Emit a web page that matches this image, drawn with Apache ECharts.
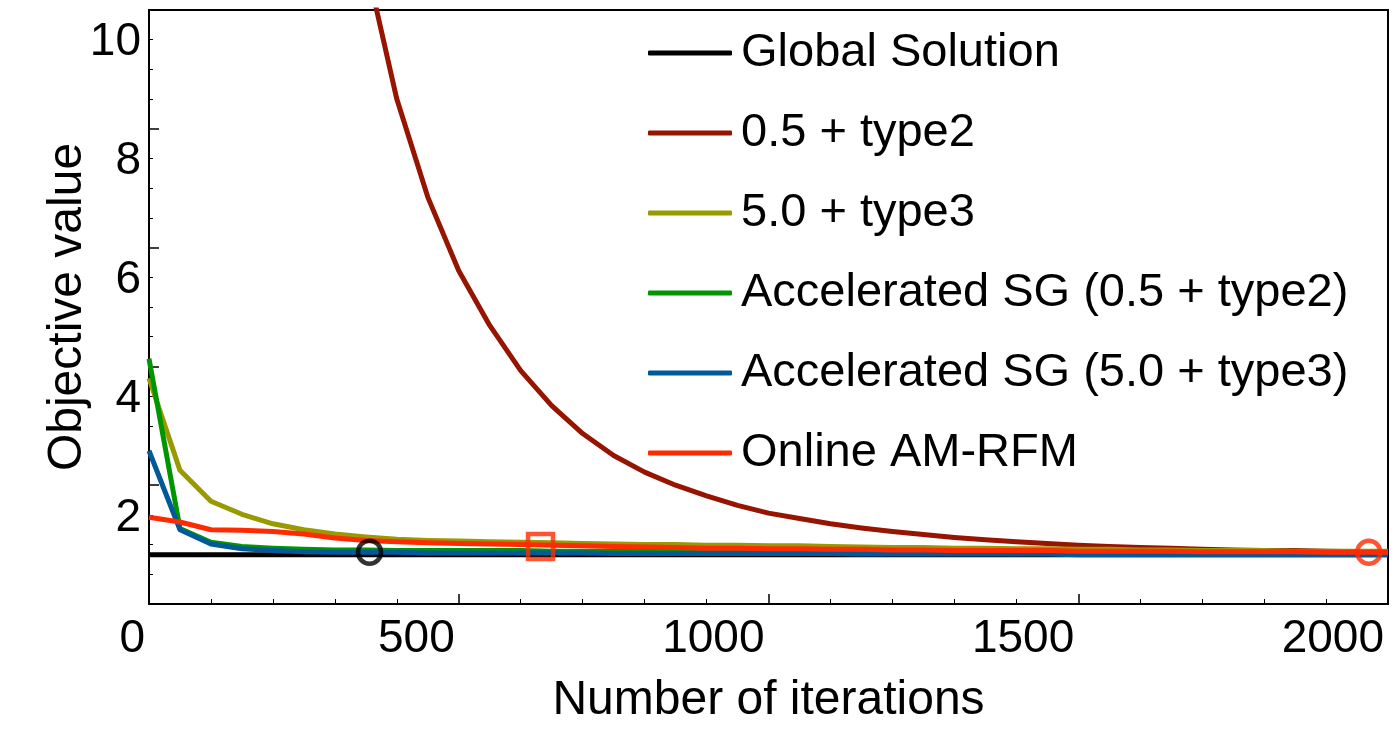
<!DOCTYPE html>
<html>
<head>
<meta charset="utf-8">
<title>Objective value vs iterations</title>
<script src="https://cdn.jsdelivr.net/npm/echarts@6/dist/echarts.min.js"></script>
<style>
  html, body { margin: 0; padding: 0; background: #fff; }
  #main { width: 1398px; height: 754px; }
</style>
</head>
<body>
<div id="main"></div>
<script>
// iterations, sampled every 50
var iterations = [0, 50, 100, 150, 200, 250, 300, 350, 400, 450, 500, 550, 600, 650, 700, 750, 800, 850, 900, 950,
  1000, 1050, 1100, 1150, 1200, 1250, 1300, 1350, 1400, 1450, 1500, 1550, 1600, 1650, 1700, 1750, 1800, 1850, 1900, 1950, 2000];

var globalSolution = [0.83, 0.83, 0.83, 0.83, 0.83, 0.83, 0.83, 0.83, 0.83, 0.83, 0.83, 0.83, 0.83, 0.83, 0.83, 0.83, 0.83, 0.83, 0.83, 0.83,
  0.83, 0.83, 0.83, 0.83, 0.83, 0.83, 0.83, 0.83, 0.83, 0.83, 0.83, 0.83, 0.83, 0.83, 0.83, 0.83, 0.83, 0.83, 0.83, 0.83, 0.83];

// 0.5 + type2 only enters the frame after ~350 iterations
var type2Half = [null, null, null, null, null, null, null, 10.8, 8.50, 6.85, 5.61, 4.69, 3.93, 3.34, 2.87, 2.50, 2.22, 2.00, 1.82, 1.66,
  1.53, 1.44, 1.35, 1.28, 1.22, 1.17, 1.12, 1.08, 1.05, 1.02, 0.99, 0.97, 0.95, 0.94, 0.92, 0.91, 0.90, 0.90, 0.89, 0.88, 0.88];

var type3Five = [3.80, 2.25, 1.73, 1.51, 1.35, 1.25, 1.18, 1.13, 1.09, 1.07, 1.06, 1.05, 1.04, 1.03, 1.02, 1.01, 1.00, 1.00, 0.99, 0.99,
  0.98, 0.98, 0.97, 0.96, 0.95, 0.95, 0.94, 0.94, 0.93, 0.93, 0.92, 0.92, 0.91, 0.91, 0.90, 0.90, 0.90, 0.89, 0.89, 0.89, 0.89];

var accelType2 = [4.13, 1.27, 1.04, 0.97, 0.94, 0.92, 0.91, 0.91, 0.90, 0.90, 0.90, 0.90, 0.90, 0.89, 0.89, 0.89, 0.89, 0.89, 0.88, 0.88,
  0.88, 0.88, 0.88, 0.88, 0.88, 0.88, 0.88, 0.88, 0.87, 0.87, 0.87, 0.87, 0.87, 0.87, 0.87, 0.87, 0.87, 0.87, 0.87, 0.87, 0.87];

var accelType3 = [2.58, 1.25, 1.01, 0.93, 0.90, 0.88, 0.87, 0.87, 0.87, 0.86, 0.86, 0.86, 0.86, 0.86, 0.86, 0.85, 0.85, 0.85, 0.85, 0.85,
  0.85, 0.85, 0.85, 0.84, 0.84, 0.84, 0.84, 0.84, 0.84, 0.84, 0.83, 0.83, 0.83, 0.83, 0.83, 0.83, 0.83, 0.83, 0.83, 0.83, 0.83];

var onlineAM = [1.46, 1.38, 1.25, 1.24, 1.22, 1.18, 1.11, 1.07, 1.05, 1.03, 1.02, 1.01, 1.00, 0.99, 0.98, 0.97, 0.96, 0.95, 0.94, 0.94,
  0.93, 0.93, 0.92, 0.92, 0.91, 0.91, 0.90, 0.90, 0.90, 0.90, 0.89, 0.89, 0.89, 0.89, 0.88, 0.88, 0.88, 0.88, 0.87, 0.87, 0.87];

// highlighted points
var blackMarks = [[356, 0.87]];
var redSquares = [[632, 0.97]];
var redCircles = [[1969, 0.87]];

// y tick labels (drawn a little below their ticks, as in the source figure)
var yTickLabels = [2, 4, 6, 8, 10];

var seriesNames = ['Global Solution', '0.5 + type2', '5.0 + type3',
  'Accelerated SG (0.5 + type2)', 'Accelerated SG (5.0 + type3)', 'Online AM-RFM'];
var seriesColors = ['#000000', '#961400', '#999900', '#009600', '#005a99', '#ff2a00'];
var seriesValues = [globalSolution, type2Half, type3Five, accelType2, accelType3, onlineAM];

var FONT = '"Liberation Sans", Arial, Helvetica, sans-serif';
var LABEL_SHIFT = 0.55; // y units the tick labels sit below their ticks

function pairUp(values) {
  var out = [];
  for (var i = 0; i < iterations.length; i++) {
    out.push([iterations[i], values[i]]);
  }
  return out;
}

var chart = echarts.init(document.getElementById('main'));

var series = [];
for (var i = 0; i < seriesNames.length; i++) {
  series.push({
    name: seriesNames[i],
    type: 'line',
    data: pairUp(seriesValues[i]),
    symbol: 'none',
    clip: true,
    connectNulls: false,
    lineStyle: { color: seriesColors[i], width: 5, join: 'round' },
    itemStyle: { color: seriesColors[i] },
    emphasis: { disabled: true },
    z: 2 + i
  });
}

function markSeries(name, data, symbol, size, color) {
  return {
    name: name,
    type: 'scatter',
    data: data,
    symbol: symbol,
    symbolSize: size,
    itemStyle: { color: 'rgba(0,0,0,0)', borderColor: color, borderWidth: 4.5 },
    emphasis: { disabled: true },
    z: 10
  };
}
series.push(markSeries('mark-black', blackMarks, 'circle', 23, '#000'));
series.push(markSeries('mark-square', redSquares, 'rect', 25, '#ff2a00'));
series.push(markSeries('mark-circle', redCircles, 'circle', 23, '#ff2a00'));

var option = {
  animation: false,
  backgroundColor: '#fff',
  textStyle: { fontFamily: FONT, color: '#000' },
  grid: {
    left: 149, right: 10, top: 10, bottom: 150,
    show: true, borderColor: '#000', borderWidth: 2
  },
  legend: {
    data: seriesNames,
    orient: 'vertical',
    left: 648,
    top: 25,
    padding: 0,
    icon: 'roundRect',
    itemWidth: 84,
    itemHeight: 5,
    itemGap: 24,
    selectedMode: false,
    textStyle: { fontFamily: FONT, fontSize: 47, color: '#000', lineHeight: 56, padding: [0, 0, 0, 4] }
  },
  xAxis: {
    type: 'value',
    min: 0,
    max: 2000,
    interval: 500,
    name: 'Number of iterations',
    nameLocation: 'middle',
    nameGap: 73,
    nameTextStyle: { fontFamily: FONT, fontSize: 48, color: '#000' },
    axisLine: { show: true, lineStyle: { color: '#000', width: 2 } },
    axisTick: { show: true, inside: true, length: 10, lineStyle: { color: '#000', width: 1.5 } },
    minorTick: { show: true, splitNumber: 5, length: 5, lineStyle: { color: '#000', width: 1 } },
    splitLine: { show: false },
    axisLabel: {
      fontFamily: FONT, fontSize: 46, color: '#000',
      align: 'right', verticalAlign: 'middle', margin: 35, padding: [0, 4, 0, 0],
      formatter: function (v) { return String(v); }
    }
  },
  yAxis: [{
    type: 'value',
    min: 0,
    max: 10,
    interval: 2,
    name: 'Objective value',
    nameLocation: 'middle',
    nameGap: 57,
    nameTextStyle: { fontFamily: FONT, fontSize: 48, color: '#000' },
    axisLine: { show: true, lineStyle: { color: '#000', width: 2 } },
    axisTick: { show: true, inside: true, length: 10, lineStyle: { color: '#000', width: 1.5 } },
    minorTick: { show: true, splitNumber: 4, length: 4, lineStyle: { color: '#000', width: 1 } },
    splitLine: { show: false },
    axisLabel: { show: false }
  }, {
    // label-only axis, shifted so each number sits just under its tick
    type: 'value',
    position: 'left',
    min: LABEL_SHIFT,
    max: 10 + LABEL_SHIFT,
    axisLine: { show: false },
    axisTick: { show: false },
    splitLine: { show: false },
    axisLabel: {
      fontFamily: FONT, fontSize: 46, color: '#000', margin: 8,
      customValues: yTickLabels
    }
  }],
  series: series
};

chart.setOption(option);
</script>
</body>
</html>
